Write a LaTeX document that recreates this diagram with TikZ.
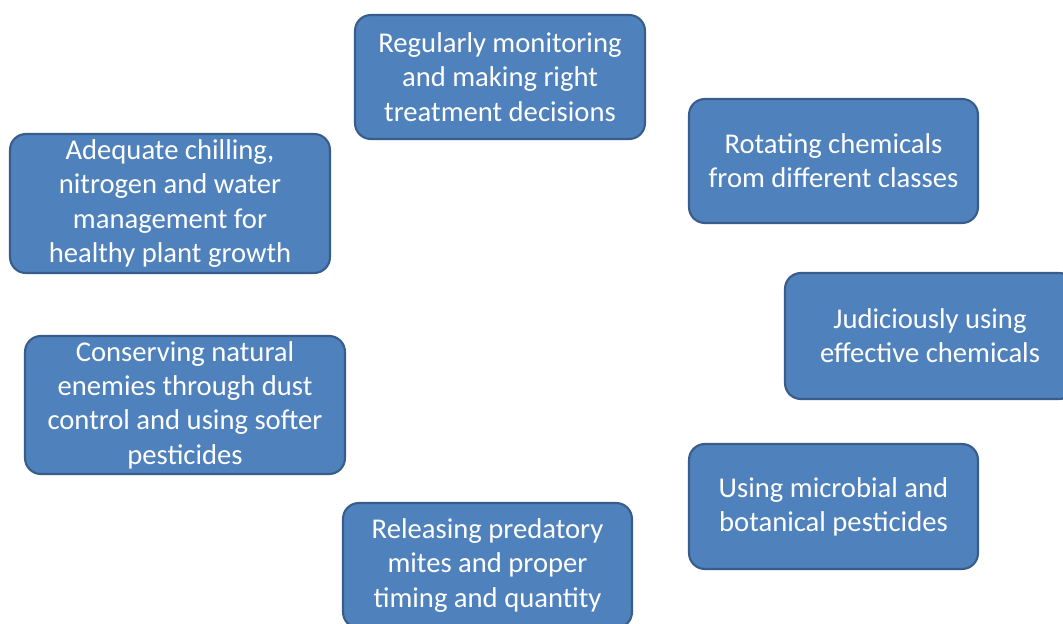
\documentclass[tikz,border=0pt]{standalone}
\usepackage{fontspec}
\setmainfont{Carlito}
\usetikzlibrary{positioning}
\definecolor{bleu}{RGB}{79,129,189}
\definecolor{bleuf}{RGB}{56,93,138}

\begin{document}
\begin{tikzpicture}[x=0.02cm, y=-0.02cm,
  bx/.style 2 args={rectangle, rounded corners=9pt, draw=bleuf, fill=bleu, line width=1.2pt,
                    text=white, minimum width=#1, minimum height=#2, align=center, inner sep=0pt,
                    font=\fontsize{16.3}{19.5}\selectfont}]

% cadre
\useasboundingbox (0,0) rectangle (1063,624);
\clip (0,0) rectangle (1063,624);
\fill[white] (0,0) rectangle (1063,624);

% en haut
\node[bx={5.8cm}{2.48cm}] (suivi) at (500, 77) {Regularly monitoring\\ and making right\\ treatment decisions};
\node[bx={5.78cm}{2.48cm}] (rotation) at (833.5, 161) {Rotating chemicals\\ from different classes};

% gauche
\node[bx={6.4cm}{2.78cm}] (culture) at (170, 203.5) {Adequate chilling,\\ nitrogen and water\\ management for\\ healthy plant growth};
\node[bx={6.4cm}{2.76cm}] (ennemis) at (185, 405) {Conserving natural\\ enemies through dust\\ control and using softer\\ pesticides};

% droite
\node[bx={5.8cm}{2.52cm}] (chimie) at (930, 336) {Judiciously using\\ effective chemicals};
\node[bx={5.78cm}{2.5cm}] (bio) at (833.5, 506.5) {Using microbial and\\ botanical pesticides};

% en bas
\node[bx={5.78cm}{2.5cm}] (acariens) at (487.5, 565.5) {Releasing predatory\\ mites and proper\\ timing and quantity};

\end{tikzpicture}
\end{document}
